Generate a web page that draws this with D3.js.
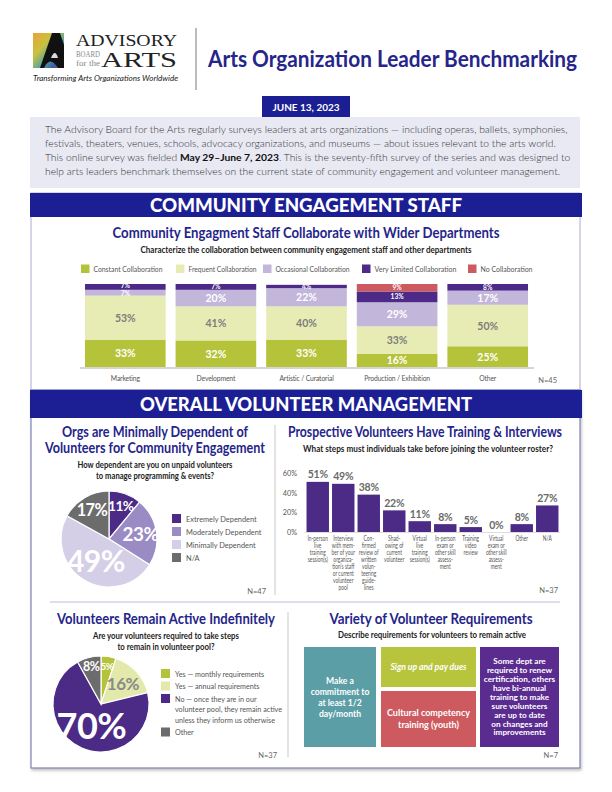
<!DOCTYPE html>
<html><head><meta charset="utf-8">
<script src="https://cdn.jsdelivr.net/npm/d3@7"></script>
<style>
body{margin:0;background:#fff;}
svg{display:block;font-family:Lato,"Open Sans",sans-serif;}
</style></head>
<body>
<svg id="c" width="612" height="792"></svg>
<script>
// ---------- DATA ----------
const intro = [
  [{t:"The Advisory Board for the Arts regularly surveys leaders at arts organizations — including operas, ballets, symphonies,"}],
  [{t:"festivals, theaters, venues, schools, advocacy organizations, and museums — about issues relevant to the arts world."}],
  [{t:"This online survey was fielded "},{t:"May 29–June 7, 2023",b:true},{t:". This is the seventy-fifth survey of the series and was designed to"}],
  [{t:"help arts leaders benchmark themselves on the  current state of community engagement and volunteer management."}]
];
const collabDepartments = ["Marketing","Development","Artistic / Curatorial","Production / Exhibition","Other"];
const collabLevels = ["Constant Collaboration","Frequent Collaboration","Occasional Collaboration","Very Limited Collaboration","No Collaboration"];
const constantVals = [33,32,33,16,25];
const frequentVals = [53,41,40,33,50];
const occasionalVals = [7,20,22,29,17];
const veryLimitedVals = [7,7,4,13,8];
const noCollabVals = [0,0,0,9,0];

const dependLabels = ["Extremely Dependent","Moderately Dependent","Minimally Dependent","N/A"];
const dependVals = [11,23,49,17];

const stepLabels = [
  ["In-person","live","training","session(s)"],
  ["Interview","with mem-","ber of your","organiza-","tion's staff","or current","volunteer","pool"],
  ["Con-","firmed","review of","written","volun-","teering","guide-","lines"],
  ["Shad-","owing of","current","volunteer"],
  ["Virtual","live","training","session(s)"],
  ["In-person","exam or","other skill","assess-","ment"],
  ["Training","video","review"],
  ["Virtual","exam or","other skill","assess-","ment"],
  ["Other"],
  ["N/A"]
];
const stepVals = [51,49,38,22,11,8,5,0,8,27];
const stepTicks = [0,20,40,60];

const activeLabels = [["Yes — monthly requirements"],["Yes — annual requirements"],["No — once they are in our","volunteer pool, they remain active","unless they inform us otherwise"],["Other"]];
const activeVals = [5,16,70,8];

const reqTexts = [
  ["Make a","commitment to","at least 1/2","day/month"],
  ["Sign up and pay dues"],
  ["Cultural competency","training (youth)"],
  ["Some dept are","required to renew","certification, others","have bi-annual","training to make","sure volunteers","are up to date","on changes and","improvements"]
];

// ---------- STYLE ----------
const NAVY="#25258a", BANNER="#1c1f93", GREY="#666";
const collabColors=["#b5c33b","#e7ecb4","#c2b6da","#4d2a87","#cd5a5f"];
const collabLabelColors=["#fff","#7d7d7d","#fff","#fff","#fff"];
const dependColors=["#4c2b87","#9b8bc4","#d4cee6","#6c6c6c"];
const activeColors=["#b5c33b","#e3e9aa","#4c2b87","#6c6c6c"];
const activeLabelColors=["#fff","#8a8a8a","#fff","#fff"];
const reqColors=["#5c9ea6","#b9c43d","#cd5a5f","#5b2c90"];

const svg=d3.select("#c");
const defs=svg.append("defs");
const sh=defs.append("filter").attr("id","sh").attr("x","-5%").attr("y","-5%").attr("width","110%").attr("height","110%");
sh.append("feDropShadow").attr("dx",1).attr("dy",2).attr("stdDeviation",1.5).attr("flood-color","#000").attr("flood-opacity",0.25);

// ---------- HEADER ----------
const lg=defs.append("linearGradient").attr("id","lg").attr("x1",0).attr("y1",0).attr("x2",1).attr("y2",1);
[["0","#e9a23b"],["0.35","#c9c23e"],["0.6","#5aa3a0"],["0.8","#3b5ea8"],["1","#7a3f93"]].forEach(s=>lg.append("stop").attr("offset",s[0]).attr("stop-color",s[1]));
svg.append("rect").attr("x",33).attr("y",33).attr("width",31).attr("height",35).attr("fill","url(#lg)");
svg.append("path").attr("d","M40,68 L52,33 L60,33 L64,45 L64,68 L58,68 Q50,55 44,68 Z").attr("fill","#111");
svg.append("path").attr("d","M51,58 Q55,48 58,58 Z").attr("fill","#fff").attr("opacity",0.85);
const serif="'Liberation Serif','DejaVu Serif',serif";
svg.append("text").attr("x",76).attr("y",46).attr("font-family",serif).attr("font-size",17).attr("fill","#222").attr("textLength",101).attr("lengthAdjust","spacingAndGlyphs").text("ADVISORY");
svg.append("text").attr("x",76).attr("y",57).attr("font-family",serif).attr("font-size",7.5).attr("fill","#888").attr("textLength",24).attr("lengthAdjust","spacingAndGlyphs").text("BOARD");
svg.append("text").attr("x",76).attr("y",66).attr("font-family",serif).attr("font-size",8.5).attr("fill","#888").attr("textLength",24).attr("lengthAdjust","spacingAndGlyphs").text("for the");
svg.append("text").attr("x",101).attr("y",67).attr("font-family",serif).attr("font-size",20).attr("fill","#222").attr("textLength",76).attr("lengthAdjust","spacingAndGlyphs").text("ARTS");
svg.append("text").attr("x",33).attr("y",81).attr("font-size",7.2).attr("font-style","italic").attr("fill","#222").attr("textLength",145).attr("lengthAdjust","spacingAndGlyphs").text("Transforming Arts Organizations Worldwide");
svg.append("line").attr("x1",196).attr("x2",196).attr("y1",28).attr("y2",90).attr("stroke","#555").attr("stroke-width",0.8);
svg.append("text").attr("x",208).attr("y",67).attr("font-size",22).attr("font-weight",700).attr("fill",NAVY).attr("textLength",369).attr("lengthAdjust","spacingAndGlyphs").text("Arts Organization Leader Benchmarking");

// date + intro
svg.append("rect").attr("x",30).attr("y",117).attr("width",550).attr("height",71).attr("fill","#e8e9f3");
svg.append("rect").attr("x",262).attr("y",96).attr("width",88).attr("height",21).attr("fill",BANNER);
svg.append("text").attr("x",306).attr("y",110.5).attr("text-anchor","middle").attr("font-size",10).attr("font-weight",700).attr("fill","#fff").text("JUNE 13, 2023");
intro.forEach((line,i)=>{
  const t=svg.append("text").attr("x",45).attr("y",133+i*14).attr("font-size",10.3).attr("fill","#333");
  line.forEach(s=>t.append("tspan").attr("font-weight",s.b?700:300).attr("fill",s.b?"#111":"#333").text(s.t));
});

// ---------- SECTION FRAMES ----------
svg.append("rect").attr("x",31).attr("y",193).attr("width",549).attr("height",197).attr("fill","#fff").attr("stroke","#a9add2").attr("stroke-width",1);
svg.append("rect").attr("x",31).attr("y",390).attr("width",549).attr("height",378).attr("fill","#fff").attr("stroke","#7d81b3").attr("stroke-width",1.2).attr("filter","url(#sh)");
function banner(y,h,txt,w){
  svg.append("rect").attr("x",30).attr("y",y).attr("width",552).attr("height",h).attr("fill",BANNER);
  svg.append("text").attr("x",306).attr("y",y+h/2+6.5).attr("text-anchor","middle").attr("font-size",18.5).attr("font-weight",900).attr("fill","#fff")
    .attr("textLength",w).attr("lengthAdjust","spacingAndGlyphs").text(txt);
}
banner(193,24,"COMMUNITY ENGAGEMENT STAFF",312);
banner(390,28,"OVERALL VOLUNTEER MANAGEMENT",332);

function title(x,y,txt,w,size){svg.append("text").attr("x",x).attr("y",y).attr("text-anchor","middle").attr("font-size",size||14.5).attr("font-weight",700).attr("fill",NAVY)
  .attr("textLength",w).attr("lengthAdjust","spacingAndGlyphs").text(txt);}
function question(x,y,txt,w,size){svg.append("text").attr("x",x).attr("y",y).attr("text-anchor","middle").attr("font-size",size||9.2).attr("font-weight",700).attr("fill","#222")
  .attr("textLength",w).attr("lengthAdjust","spacingAndGlyphs").text(txt);}

// ---------- CHART 1: STACKED BARS ----------
title(306,238,"Community Engagment Staff Collaborate with Wider Departments",387,15);
question(306,253,"Characterize the collaboration between community engagement staff and other departments",331,9);
const legX=[81,176,263,362,468], legW=[69,68,74,82,52];
collabLevels.forEach((l,i)=>{
  svg.append("rect").attr("x",legX[i]).attr("y",264.5).attr("width",8.5).attr("height",8.5).attr("fill",collabColors[i]);
  svg.append("text").attr("x",legX[i]+12.5).attr("y",271.5).attr("font-size",7).attr("fill","#555")
    .attr("textLength",legW[i]).attr("lengthAdjust","spacingAndGlyphs").text(l);
});
const rows=collabDepartments.map((d,i)=>({dept:d,k0:constantVals[i],k1:frequentVals[i],k2:occasionalVals[i],k3:veryLimitedVals[i],k4:noCollabVals[i]}));
const keys=["k0","k1","k2","k3","k4"];
const stack=d3.stack().keys(keys)(rows);
const x1=d3.scaleBand().domain(collabDepartments).range([80,533]).paddingInner(0.11).paddingOuter(0.055);
const y1=d3.scaleLinear().domain([0,100]).range([367,284]);
const g1=svg.append("g");
stack.forEach((layer,li)=>{
  layer.forEach(seg=>{
    if(seg[1]-seg[0]<=0) return;
    g1.append("rect").attr("x",x1(seg.data.dept)).attr("width",x1.bandwidth())
      .attr("y",y1(seg[1])).attr("height",y1(seg[0])-y1(seg[1])).attr("fill",collabColors[li]);
  });
});
// labels, with small adjacent labels nudged apart
collabDepartments.forEach((dep,di)=>{
  const labs=[];
  stack.forEach((layer,li)=>{
    const seg=layer[di]; const v=seg[1]-seg[0]; if(v<=0) return;
    labs.push({li,v,big:v>=15,y:y1((seg[0]+seg[1])/2)});
  });
  for(let k=1;k<labs.length;k++){
    const a=labs[k-1], b=labs[k];
    if(!a.big && !b.big && a.y-b.y<7.5){const m=(a.y+b.y)/2; a.y=m+3.75; b.y=m-3.75;}
  }
  labs.forEach(l=>{
    g1.append("text").attr("x",x1(dep)+x1.bandwidth()/2).attr("y",l.y+(l.big?4:2.3))
      .attr("text-anchor","middle").attr("font-size",l.big?10.5:6.6).attr("font-weight",700).attr("fill",collabLabelColors[l.li]).text(l.v+"%");
  });
});
const ax1=svg.append("g").attr("transform","translate(0,368)").call(d3.axisBottom(x1).tickSize(0).tickPadding(8));
ax1.select(".domain").attr("stroke","#aaa").attr("d","M80,0H534");
ax1.selectAll("text").attr("font-size",6.8).attr("fill","#555").attr("font-family","Lato,sans-serif").attr("letter-spacing",-0.15);
svg.append("text").attr("x",557).attr("y",383).attr("text-anchor","end").attr("font-size",7.5).attr("fill",GREY).text("N=45");

// ---------- dividers in section 2 ----------
svg.append("line").attr("x1",275).attr("x2",275).attr("y1",425).attr("y2",595).attr("stroke","#bbb").attr("stroke-width",0.8);
svg.append("line").attr("x1",50).attr("x2",560).attr("y1",602).attr("y2",602).attr("stroke","#a9add2").attr("stroke-width",0.8);
svg.append("line").attr("x1",288).attr("x2",288).attr("y1",612).attr("y2",757).attr("stroke","#bbb").attr("stroke-width",0.8);

// ---------- PIE helper ----------
function drawPie(cx,cy,r,vals,colors,labelColors,sizeFn,radFn){
  const arcs=d3.pie().sort(null).value(d=>d)(vals);
  const arc=d3.arc().innerRadius(0).outerRadius(r);
  const g=svg.append("g").attr("transform",`translate(${cx},${cy})`);
  g.selectAll("path").data(arcs).join("path").attr("d",arc).attr("fill",(d,i)=>colors[i]).attr("stroke","#fff").attr("stroke-width",1.2);
  g.selectAll("text").data(arcs).join("text")
    .attr("transform",d=>{const rr=r*radFn(d.data);const a=(d.startAngle+d.endAngle)/2;return `translate(${rr*Math.sin(a)},${-rr*Math.cos(a)})`;})
    .attr("text-anchor","middle").attr("dy","0.35em").attr("font-size",d=>sizeFn(d.data)).attr("font-weight",700)
    .attr("fill",(d,i)=>labelColors[i]).attr("letter-spacing",-0.5).text(d=>d.data+"%");
}

// ---------- CHART 2: PIE dependency ----------
title(155,437,"Orgs are Minimally Dependent of",186,14.5);
title(155,453,"Volunteers for Community Engagement",220,14.5);
question(155,468,"How dependent are you on unpaid volunteers",155,8.8);
question(155,479,"to manage programming & events?",118,8.8);
drawPie(109,539,48,dependVals,dependColors,["#fff","#fff","#fff","#fff"],v=>9+0.43*v,v=>0.78-0.005*v);
dependLabels.forEach((l,i)=>{
  svg.append("rect").attr("x",172).attr("y",514+i*13).attr("width",9).attr("height",9).attr("fill",dependColors[i]);
  svg.append("text").attr("x",186).attr("y",521.5+i*13).attr("font-size",7.4).attr("fill","#555").text(l);
});
svg.append("text").attr("x",266).attr("y",594).attr("text-anchor","end").attr("font-size",7.5).attr("fill",GREY).text("N=47");

// ---------- CHART 3: BARS steps ----------
title(425,437,"Prospective Volunteers Have Training & Interviews",274,14.5);
question(428,452,"What steps must individuals take before joining the volunteer roster?",250,8.8);
const idx=stepVals.map((d,i)=>i);
const x3=d3.scaleBand().domain(idx).range([305,560]).paddingInner(0.12).paddingOuter(0.06);
const y3=d3.scaleLinear().domain([0,60]).range([532,473]);
const ay=svg.append("g").attr("transform","translate(299,0)").call(d3.axisLeft(y3).tickValues(stepTicks).tickFormat(d=>d+"%").tickSize(0).tickPadding(2));
ay.select(".domain").remove();
ay.selectAll("text").attr("font-size",7.3).attr("fill","#555").attr("font-family","Lato,sans-serif");
svg.append("line").attr("x1",305).attr("x2",560).attr("y1",532.5).attr("y2",532.5).attr("stroke","#ddd");
svg.selectAll(".b3").data(stepVals).join("rect").attr("class","b3")
  .attr("x",(d,i)=>x3(i)).attr("width",x3.bandwidth()).attr("y",d=>y3(d)).attr("height",d=>y3(0)-y3(d)).attr("fill","#4c2b87");
svg.selectAll(".v3").data(stepVals).join("text").attr("class","v3")
  .attr("x",(d,i)=>x3(i)+x3.bandwidth()/2).attr("y",d=>y3(d)-3.5).attr("text-anchor","middle")
  .attr("font-size",10.5).attr("font-weight",700).attr("fill","#6a6a6a").attr("letter-spacing",-0.3).text(d=>d+"%");
stepLabels.forEach((lines,i)=>{
  const t=svg.append("text").attr("transform",`translate(${x3(i)+x3.bandwidth()/2},541) scale(0.74,1)`).attr("text-anchor","middle").attr("font-size",6.6).attr("fill","#555");
  lines.forEach((l,j)=>t.append("tspan").attr("x",0).attr("y",j*7).text(l));
});
svg.append("text").attr("x",558).attr("y",593).attr("text-anchor","end").attr("font-size",7.5).attr("fill",GREY).text("N=37");

// ---------- CHART 4: PIE active ----------
title(166,624,"Volunteers Remain Active Indefinitely",218,14.5);
question(166,639,"Are your volunteers required to take steps",146,8.8);
question(166,650,"to remain in volunteer pool?",97,8.8);
drawPie(101,704,48,activeVals,activeColors,activeLabelColors,v=>v>=60?36:(v>=15?17:(v>=8?12.5:10)),v=>v>=60?0.5:(v>=15?0.62:0.8));
let ly=669;
activeLabels.forEach((lines,i)=>{
  svg.append("rect").attr("x",161).attr("y",ly).attr("width",9).attr("height",9).attr("fill",activeColors[i]);
  const t=svg.append("text").attr("x",175).attr("y",ly+7.5).attr("font-size",7.2).attr("fill","#555");
  lines.forEach((l,j)=>t.append("tspan").attr("x",175).attr("dy",j?10.5:0).text(l));
  ly+=12.5+(lines.length-1)*10.5;
});
svg.append("text").attr("x",277).attr("y",758).attr("text-anchor","end").attr("font-size",7.5).attr("fill",GREY).text("N=37");

// ---------- CHART 5: requirement boxes ----------
title(431,624,"Variety of Volunteer Requirements",203,14.5);
question(432,638,"Describe requirements for volunteers to remain active",188,8.6);
const bx=[304,381,480], bw=[72,95,79];
const boxes=[
  {x:bx[0],w:bw[0],y:647,h:100},
  {x:bx[1],w:bw[1],y:647,h:40},
  {x:bx[1],w:bw[1],y:691,h:56},
  {x:bx[2],w:bw[2],y:647,h:100}
];
const lh=[11,10,12.5,8.9], fs=[8.6,8.6,9,8.2];
reqTexts.forEach((lines,i)=>{
  const b=boxes[i];
  svg.append("rect").attr("x",b.x).attr("y",b.y).attr("width",b.w).attr("height",b.h).attr("fill",reqColors[i]);
  const cy=b.y+b.h/2-(lines.length-1)*lh[i]/2;
  const t=svg.append("text").attr("x",b.x+b.w/2).attr("y",cy).attr("text-anchor","middle")
    .attr("font-size",fs[i]).attr("font-weight",700).attr("fill","#fff").attr("font-style",i===1?"italic":"normal");
  lines.forEach((l,j)=>t.append("tspan").attr("x",b.x+b.w/2).attr("dy",j?lh[i]:"0.35em").text(l));
});
svg.append("text").attr("x",558).attr("y",758).attr("text-anchor","end").attr("font-size",7.5).attr("fill",GREY).text("N=7");
</script>
</body></html>
